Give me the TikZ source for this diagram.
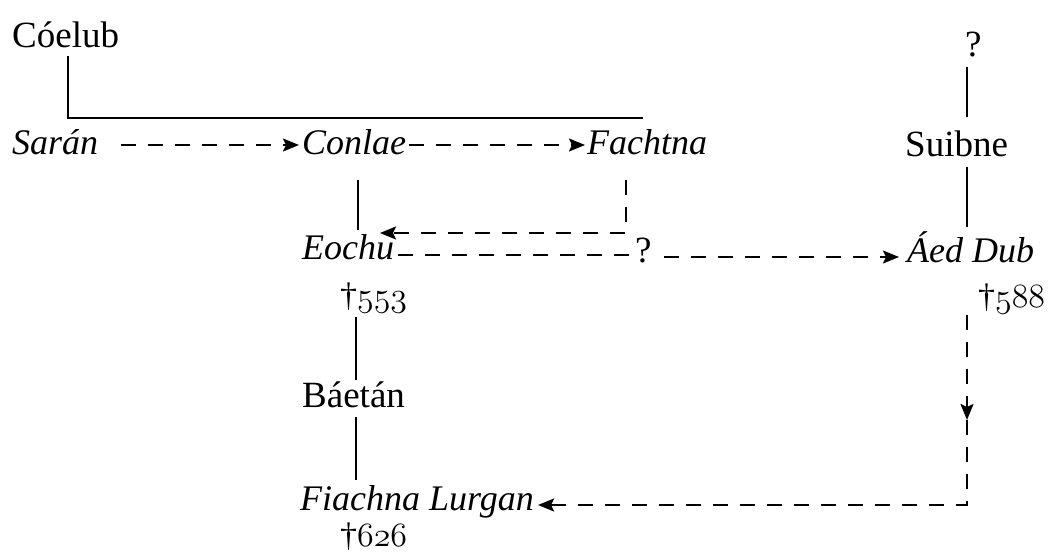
\RequirePackage{fix-cm}
\documentclass[tikz,border=0pt]{standalone}
\usepackage{fontspec}
\setmainfont{Liberation Serif}
\usetikzlibrary{arrows.meta,calc}
% old-style figures for the death years
\newcommand\osfnum[1]{{\usefont{OML}{cmm}{m}{it}#1}}
\begin{document}
\begin{tikzpicture}[x=1pt,y=-1pt,
  person/.style={inner sep=0pt, anchor=base west, font=\fontsize{37}{42}\selectfont},
  iperson/.style={person, font=\fontsize{36}{42}\selectfont\itshape},
  death/.style={person, font=\fontsize{34}{40}\selectfont},
  kin/.style={line width=2pt},
  guess/.style={line width=2pt, dash pattern=on 15pt off 12pt},
  tip/.style={-{Stealth[length=16pt,width=13pt,inset=3pt]}}]
\useasboundingbox (0,0) rectangle (1053,553);

% people
\node[person]  (coelub)  at (12,48)   {Cóelub};
\node[iperson] (saran)   at (12,155)  {Sarán};
\node[iperson] (conlae)  at (302,155) {Conlae};
\node[iperson] (fachtna) at (587,155) {Fachtna};
\node[person]  (q1)      at (965,57)  {?};
\node[person]  (suibne)  at (905,157) {Suibne};
\node[iperson] (eochu)   at (302,260) {Eochu};
\node[person]  (q2)      at (635,263) {?};
\node[iperson] (aed)     at (907,263) {Áed Dub};
\node[death]   (d553)    at (340,307) {\dag\osfnum{553}};
\node[death]   (d588)    at (978,308) {\dag\osfnum{588}};
\node[person]  (baetan)  at (302,408) {Báetán};
\node[iperson] (fiachna) at (300,510) {Fiachna Lurgan};
\node[death]   (d626)    at (340,546) {\dag\osfnum{626}};

% descent from Cóelub
\coordinate (bar) at ($(fachtna.base west)+(56,-37)$);
\draw[kin] ($(coelub.base west)+(56,8)$) |- (bar);

% succession arrows
\draw[guess,tip] ($(saran.base east)+(23,-10)$) -- ($(conlae.base west)+(-3,-10)$);
\draw[guess,tip] ($(conlae.base east)+(3,-10)$) -- ($(fachtna.base west)+(-2,-10)$);
\draw[guess,tip] ($(fachtna.base west)+(39,25)$) |- ($(eochu.base west)+(78,-27)$);
\draw[guess] ($(eochu.base east)+(4,-5)$) -- ($(q2.base west)+(-5,-8)$);
\draw[guess,tip] ($(q2.base east)+(12,-6)$) -- ($(aed.base west)+(-8,-6)$);

% lines of descent
\draw[kin] ($(conlae.base west)+(56,25)$) -- ($(eochu.base west)+(56,-30)$);
\draw[kin] ($(q1.base west)+(2,10)$) -- ($(suibne.base west)+(62,-40)$);
\draw[kin] ($(suibne.base west)+(62,10)$) -- ($(aed.base west)+(60,-36)$);
\draw[kin] ($(d553.base west)+(16,10)$) -- ($(baetan.base west)+(54,-28)$);
\draw[kin] ($(baetan.base west)+(54,9)$) -- ($(fiachna.base west)+(56,-30)$);

% from Áed Dub down to Fiachna Lurgan
\coordinate (drop) at ($(aed.base west)+(60,157)$);
\draw[guess,tip] ($(aed.base west)+(60,52)$) -- (drop);
\draw[guess,tip] (drop) |- ($(fiachna.base east)+(4,-5)$);
\end{tikzpicture}
\end{document}
